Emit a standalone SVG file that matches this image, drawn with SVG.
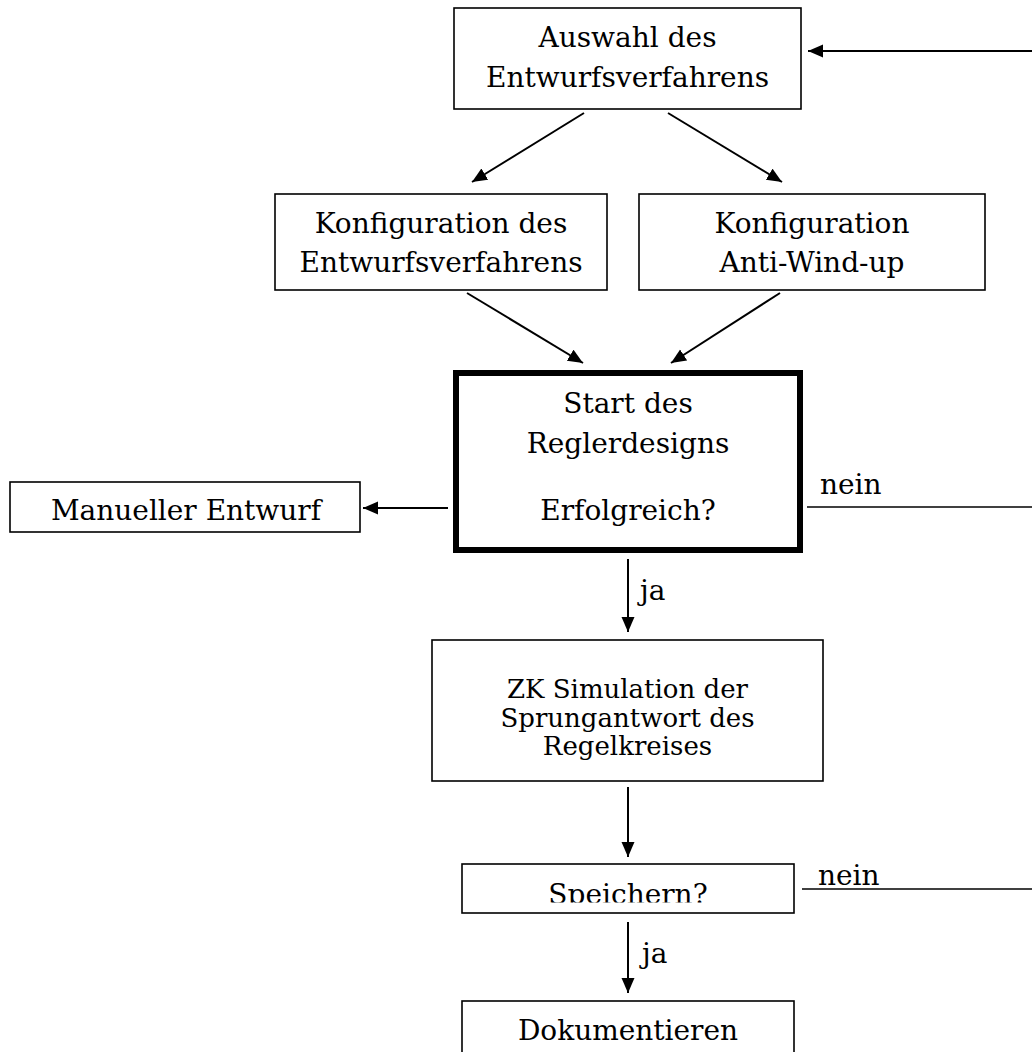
<svg xmlns="http://www.w3.org/2000/svg" width="1032" height="1052" viewBox="0 0 1032 1052">
  <style>
    .box { fill: #ffffff; stroke: #000000; stroke-width: 1.6; }
    .bold { fill: #ffffff; stroke: #000000; stroke-width: 6; }
    .t { font-family: "DejaVu Serif", "Liberation Serif", serif; font-size: 28px; fill: #000000; text-anchor: middle; }
    .ts { font-family: "DejaVu Serif", "Liberation Serif", serif; font-size: 26px; fill: #000000; text-anchor: middle; }
    .lbl { font-family: "DejaVu Serif", "Liberation Serif", serif; font-size: 28px; fill: #000000; }
    .arr { fill: none; stroke: #000000; stroke-width: 2; marker-end: url(#ah); }
    .ln { fill: none; stroke: #000000; stroke-width: 1.7; }
  </style>
  <defs>
    <marker id="ah" markerUnits="userSpaceOnUse" markerWidth="16" markerHeight="14" refX="15" refY="6.5" orient="auto">
      <path d="M0,0 L15,6.5 L0,13 Z" fill="#000000"/>
    </marker>
    <clipPath id="clipSp">
      <rect x="462" y="864" width="332" height="38.5"/>
    </clipPath>
  </defs>
  <rect width="1032" height="1052" fill="#ffffff"/>

  <g id="connectors">
    <line class="arr" x1="1032" y1="51" x2="808" y2="51"/>
    <line class="arr" x1="584" y1="113" x2="472" y2="182"/>
    <line class="arr" x1="668" y1="113" x2="782" y2="182"/>
    <line class="arr" x1="467" y1="293" x2="583" y2="363"/>
    <line class="arr" x1="780" y1="293" x2="671" y2="363"/>
    <line class="arr" x1="448" y1="508" x2="363" y2="508"/>
    <line class="ln" x1="807" y1="507" x2="1032" y2="507"/>
    <text class="lbl" x="820" y="494">nein</text>
    <line class="arr" x1="628" y1="559" x2="628" y2="632"/>
    <text class="lbl" x="640" y="600">ja</text>
    <line class="arr" x1="628" y1="787" x2="628" y2="857"/>
    <line class="ln" x1="802" y1="889" x2="1032" y2="889"/>
    <text class="lbl" x="818" y="885">nein</text>
    <line class="arr" x1="628" y1="922" x2="628" y2="993"/>
    <text class="lbl" x="642" y="963">ja</text>
  </g>

  <g id="auswahl">
    <rect class="box" x="454" y="8" width="347" height="101"/>
    <text class="t" x="627.5" y="47">Auswahl des</text>
    <text class="t" x="627.5" y="87">Entwurfsverfahrens</text>
  </g>

  <g id="konfig-entwurf">
    <rect class="box" x="275" y="194" width="332" height="96"/>
    <text class="t" x="441" y="233">Konfiguration des</text>
    <text class="t" x="441" y="272">Entwurfsverfahrens</text>
  </g>

  <g id="konfig-antiwindup">
    <rect class="box" x="639" y="194" width="346" height="96"/>
    <text class="t" x="812" y="233">Konfiguration</text>
    <text class="t" x="812" y="272">Anti-Wind-up</text>
  </g>

  <g id="start">
    <rect class="bold" x="456" y="373" width="344" height="177"/>
    <text class="t" x="628" y="413">Start des</text>
    <text class="t" x="628" y="453">Reglerdesigns</text>
    <text class="t" x="628" y="520">Erfolgreich?</text>
  </g>

  <g id="manuell">
    <rect class="box" x="10" y="482" width="350" height="50"/>
    <text class="t" x="186" y="520">Manueller Entwurf</text>
  </g>

  <g id="simulation">
    <rect class="box" x="432" y="640" width="391" height="141"/>
    <text class="ts" x="627.5" y="698">ZK Simulation der</text>
    <text class="ts" x="627.5" y="727">Sprungantwort des</text>
    <text class="ts" x="627.5" y="755">Regelkreises</text>
  </g>

  <g id="speichern">
    <rect class="box" x="462" y="864" width="332" height="49"/>
    <text class="t" x="628" y="904" clip-path="url(#clipSp)">Speichern?</text>
  </g>

  <g id="dokumentieren">
    <rect class="box" x="462" y="1001" width="332" height="70"/>
    <text class="t" x="628" y="1040">Dokumentieren</text>
  </g>
</svg>
